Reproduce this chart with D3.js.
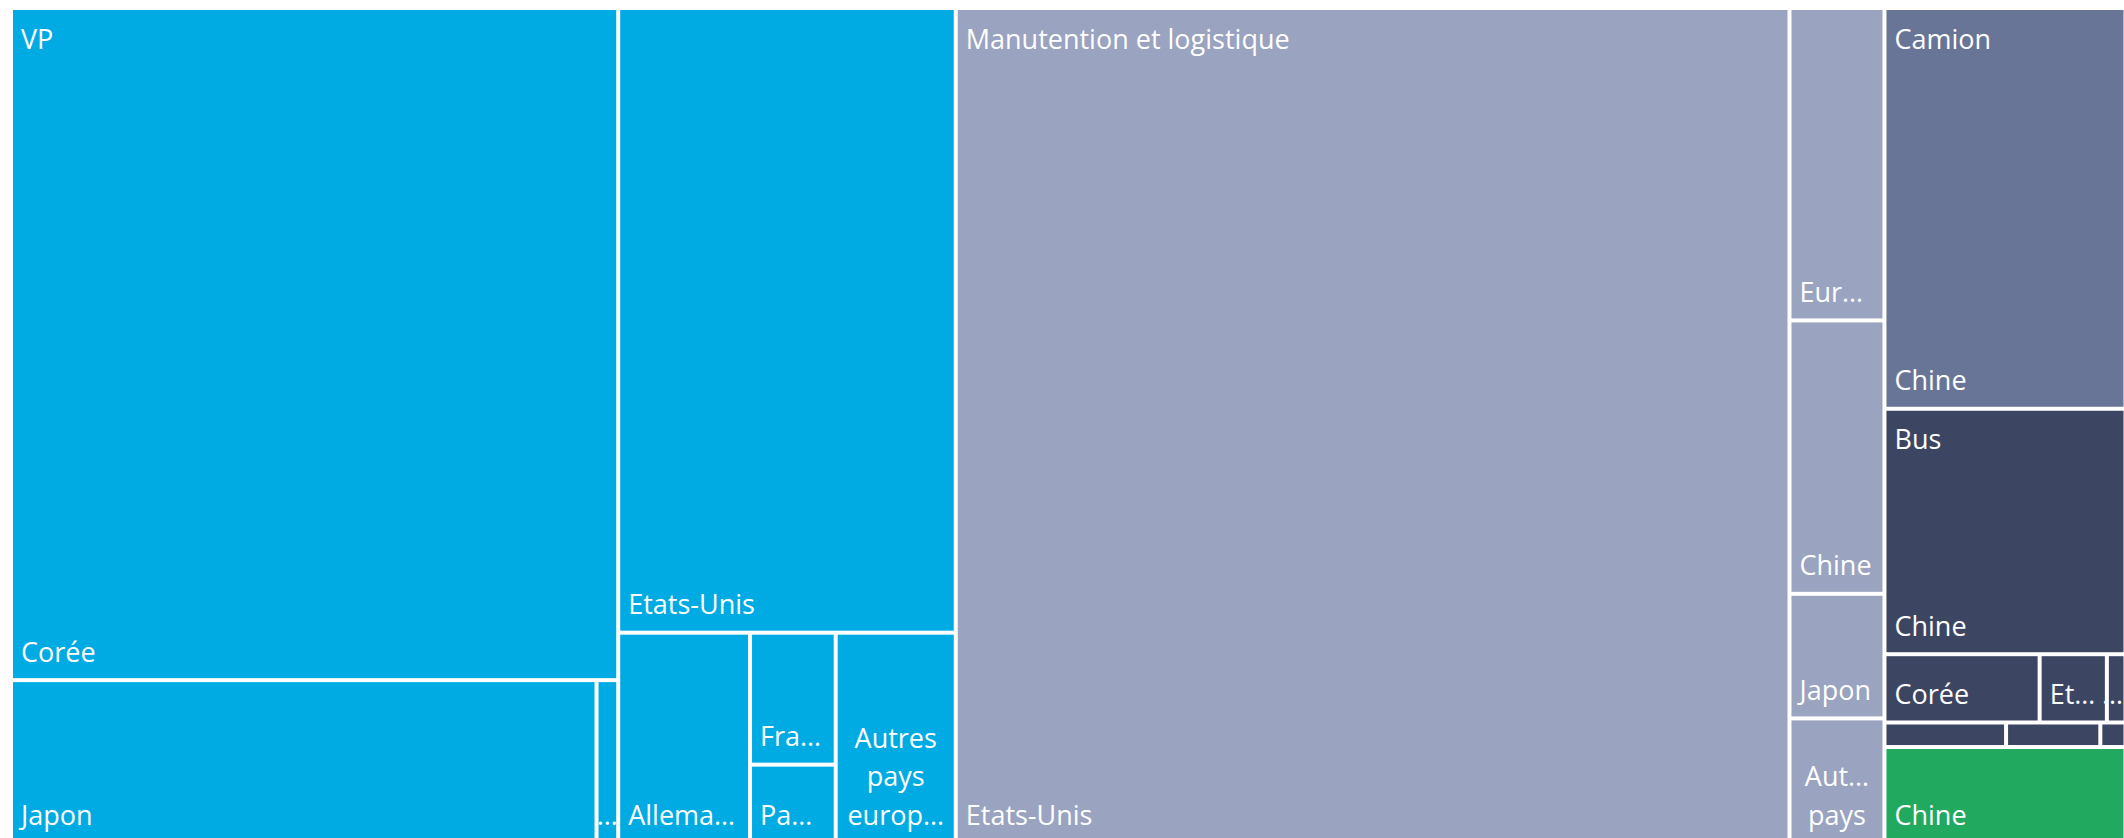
<!DOCTYPE html>
<html>
<head>
<meta charset="utf-8">
<script src="https://cdn.jsdelivr.net/npm/d3@7"></script>
<style>
  html, body { margin: 0; padding: 0; background: #ffffff; }
  svg { display: block; }
</style>
</head>
<body>
<svg id="chart" width="2124" height="838"></svg>
<script>
// ---------------- DATA ----------------
const groupNames = ["VP", "Manutention et logistique", "Camion", "Bus", ""];

const vpCountries = ["Corée", "Japon", "Chine", "Etats-Unis", "Allemagne", "France", "Pays-Bas", "Autres pays européens"];
const vpValues = [23.11, 5.40, 0.20, 11.94, 1.57, 0.64, 0.38, 1.43];

const manutCountries = ["Etats-Unis", "Europe", "Chine", "Japon", "Autres pays"];
const manutValues = [39.42, 1.68, 1.47, 0.67, 0.67];

const camionCountries = ["Chine"];
const camionValues = [5.47];

const busCountries = ["Chine", "Corée", "Etats-Unis", "Japon", "Allemagne", "France", "Autres pays"];
const busValues = [3.35, 0.60, 0.26, 0.072, 0.169, 0.131, 0.035];

const otherCountries = ["Chine"];
const otherValues = [1.31];

// ---------------- STYLE / LAYOUT ----------------
const groupColors = ["#00abe3", "#9aa3bf", "#697596", "#3c4663", "#21a95f"];

// Arrangement of children inside some groups (as the original tool laid them out):
// "x" = side by side, "y" = stacked; sizes come from the values.
const tilePlans = {
  "VP": ["x",
          ["y", "Corée", ["x", "Japon", "Chine"]],
          ["y", "Etats-Unis", ["x", "Allemagne", ["y", "France", "Pays-Bas"], "Autres pays européens"]]],
  "Bus": ["y", "Chine", ["x", "Corée", "Etats-Unis", "Japon"], ["x", "Allemagne", "France", "Autres pays"]]
};

const SVG_W = 2124;
const W = 2110.5, H = 831, LEFT = 13, TOP = 10;
const FONT_FAMILY = "'Open Sans', 'Noto Sans', sans-serif";
const FONT_SIZE = 27;
const LINE = 38.5;

// ---------------- BUILD HIERARCHY ----------------
const countryLists = [vpCountries, manutCountries, camionCountries, busCountries, otherCountries];
const valueLists = [vpValues, manutValues, camionValues, busValues, otherValues];

const rootData = {
  name: "root",
  children: groupNames.map((g, i) => ({
    name: g,
    gi: i,
    children: countryLists[i].map((c, j) => ({ name: c, value: valueLists[i][j] }))
  }))
};

const root = d3.hierarchy(rootData)
  .sum(d => d.value || 0)
  .sort((a, b) => b.value - a.value);

const squarify = d3.treemapSquarify.ratio(1);

function planTile(parent, x0, y0, x1, y1) {
  const plan = parent.depth === 1 ? tilePlans[parent.data.name] : null;
  if (!plan) return squarify(parent, x0, y0, x1, y1);
  const byName = new Map(parent.children.map(c => [c.data.name, c]));
  const sum = p => typeof p === "string" ? byName.get(p).value
                                         : p.slice(1).reduce((s, q) => s + sum(q), 0);
  (function place(p, a0, b0, a1, b1) {
    if (typeof p === "string") {
      const n = byName.get(p);
      n.x0 = a0; n.y0 = b0; n.x1 = a1; n.y1 = b1;
      return;
    }
    const dir = p[0], parts = p.slice(1), total = sum(p);
    const scale = dir === "x"
      ? d3.scaleLinear().domain([0, total]).range([a0, a1])
      : d3.scaleLinear().domain([0, total]).range([b0, b1]);
    let acc = 0;
    parts.forEach(q => {
      const v = sum(q);
      if (dir === "x") place(q, scale(acc), b0, scale(acc + v), b1);
      else place(q, a0, scale(acc), a1, scale(acc + v));
      acc += v;
    });
  })(plan, x0, y0, x1, y1);
}

d3.treemap()
  .size([W, H])
  .paddingInner(4)
  .tile(planTile)(root);

// ---------------- DRAW ----------------
const svg = d3.select("#chart");
const g = svg.append("g").attr("transform", `translate(${LEFT},${TOP})`);

const measurer = svg.append("text")
  .attr("font-family", FONT_FAMILY)
  .attr("font-size", FONT_SIZE)
  .attr("visibility", "hidden");
function textWidth(s) { measurer.text(s); return measurer.node().getComputedTextLength(); }
function fit(s, avail) {
  if (textWidth(s) <= avail) return s;
  for (let k = s.length - 1; k > 0; k--) {
    const t = s.slice(0, k).replace(/\s+$/, "") + "…";
    if (textWidth(t) <= avail) return t;
  }
  return "…";
}
function wrap(str, avail) {
  const words = str.split(" ");
  const lines = [];
  let cur = "";
  words.forEach(w => {
    const t = cur ? cur + " " + w : w;
    if (cur && textWidth(t) > avail) { lines.push(cur); cur = w; }
    else cur = t;
  });
  if (cur) lines.push(cur);
  return lines.map(l => fit(l, avail));
}

const topOf = d => d.ancestors().find(a => a.depth === 1);

const leaves = root.leaves();

g.selectAll("rect.leaf")
  .data(leaves)
  .join("rect")
  .attr("class", "leaf")
  .attr("x", d => d.x0)
  .attr("y", d => d.y0)
  .attr("width", d => Math.max(0, d.x1 - d.x0))
  .attr("height", d => Math.max(0, d.y1 - d.y0))
  .attr("fill", d => groupColors[topOf(d).data.gi]);

// leaf labels (bottom-left)
const labelLayer = g.append("g")
  .attr("font-family", FONT_FAMILY)
  .attr("font-size", FONT_SIZE)
  .attr("fill", "#ffffff");

const maxX = SVG_W - LEFT - 1;

leaves.forEach(d => {
  const w = d.x1 - d.x0, h = d.y1 - d.y0;
  const name = d.data.name;
  if (!name || h < 40) return;
  const avail = w - 16;
  let lines, center = false;
  if (textWidth(name) <= avail) lines = [name];
  else if (name.includes(" ")) { lines = wrap(name, avail); center = true; }
  else { const t = fit(name, avail); lines = [t]; center = (t === "…"); }
  const maxLines = Math.max(1, Math.floor((h - 10) / LINE));
  lines = lines.slice(0, maxLines);
  if (lines.length === 1 && lines[0] === "…") center = true;
  const n = lines.length;
  lines.forEach((l, i) => {
    let x = center ? (d.x0 + d.x1) / 2 : d.x0 + 8;
    if (center) x = Math.min(x, maxX - textWidth(l) / 2);
    labelLayer.append("text")
      .attr("x", x)
      .attr("y", d.y1 - 16.5 - (n - 1 - i) * LINE)
      .attr("text-anchor", center ? "middle" : "start")
      .text(l);
  });
});

// group labels (top-left)
root.children.forEach(c => {
  if (!c.data.name) return;
  labelLayer.append("text")
    .attr("x", c.x0 + 8)
    .attr("y", c.y0 + 38.5)
    .text(fit(c.data.name, c.x1 - c.x0 - 16));
});

measurer.remove();
</script>
</body>
</html>
